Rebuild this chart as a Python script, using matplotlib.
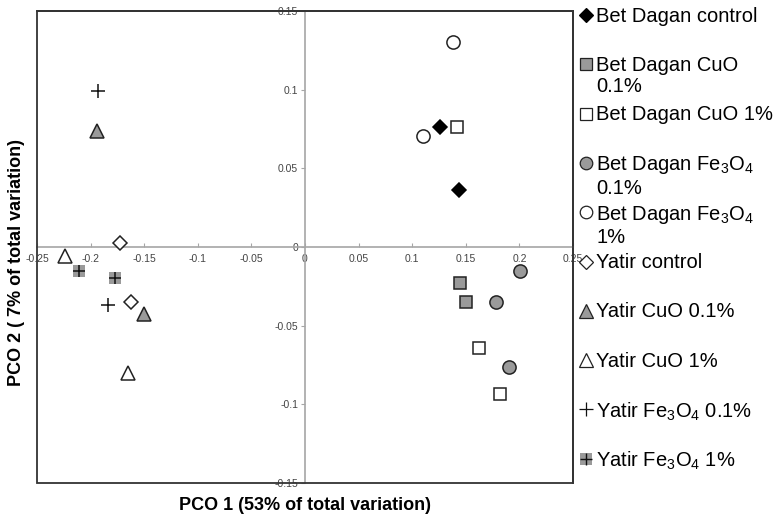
import matplotlib
matplotlib.use("Agg")
import matplotlib.pyplot as plt
from matplotlib.lines import Line2D
from matplotlib.patches import Rectangle

plt.rcParams['font.family'] = ['Liberation Sans', 'DejaVu Sans']
plt.rcParams['mathtext.fontset'] = 'custom'
plt.rcParams['mathtext.rm'] = 'Liberation Sans'
plt.rcParams['mathtext.it'] = 'Liberation Sans:italic'
plt.rcParams['mathtext.bf'] = 'Liberation Sans:bold'

# ---- data ----
labels = ["Bet Dagan control", "Bet Dagan CuO\n0.1%", "Bet Dagan CuO 1%",
          "Bet Dagan Fe$_3$O$_4$\n0.1%", "Bet Dagan Fe$_3$O$_4$\n1%",
          "Yatir control", "Yatir CuO 0.1%", "Yatir CuO 1%",
          "Yatir Fe$_3$O$_4$ 0.1%", "Yatir Fe$_3$O$_4$ 1%"]
bd_control_x = [0.126, 0.144]
bd_control_y = [0.076, 0.036]
bd_cuo01_x = [0.145, 0.150]
bd_cuo01_y = [-0.023, -0.035]
bd_cuo1_x = [0.142, 0.162, 0.182]
bd_cuo1_y = [0.0765, -0.064, -0.0935]
bd_fe01_x = [0.2005, 0.178, 0.190]
bd_fe01_y = [-0.015, -0.035, -0.076]
bd_fe1_x = [0.1385, 0.110]
bd_fe1_y = [0.130, 0.0706]
y_control_x = [-0.173, -0.1624]
y_control_y = [0.0023, -0.035]
y_cuo01_x = [-0.194, -0.1506]
y_cuo01_y = [0.0737, -0.0426]
y_cuo1_x = [-0.224, -0.165]
y_cuo1_y = [-0.0055, -0.080]
y_fe01_x = [-0.193, -0.184]
y_fe01_y = [0.0994, -0.0369]
y_fe1_x = [-0.211, -0.177]
y_fe1_y = [-0.0155, -0.020]

xticks = [-0.25, -0.2, -0.15, -0.1, -0.05, 0, 0.05, 0.1, 0.15, 0.2, 0.25]
xticklabels = ["-0.25", "-0.2", "-0.15", "-0.1", "-0.05", "0", "0.05", "0.1", "0.15", "0.2", "0.25"]
yticks = [-0.15, -0.1, -0.05, 0, 0.05, 0.1, 0.15]
yticklabels = ["-0.15", "-0.1", "-0.05", "0", "0.05", "0.1", "0.15"]

GRAY = "#9a9a9a"
ms = 9
mew = 1.1

styles = [
    dict(marker='D', mfc='black', mec='black', ms=ms * 0.8),
    dict(marker='s', mfc=GRAY, mec='#222222', ms=ms),
    dict(marker='s', mfc='white', mec='#222222', ms=ms),
    dict(marker='o', mfc=GRAY, mec='#222222', ms=ms + 0.5),
    dict(marker='o', mfc='white', mec='#222222', ms=ms + 0.5),
    dict(marker='D', mfc='white', mec='#222222', ms=ms * 0.8),
    dict(marker='^', mfc=GRAY, mec='#222222', ms=ms + 1),
    dict(marker='^', mfc='white', mec='#222222', ms=ms + 1),
    dict(marker='+', mfc='none', mec='#111111', ms=ms + 1),
    None,  # composite: gray square with plus
]
series = [(bd_control_x, bd_control_y), (bd_cuo01_x, bd_cuo01_y), (bd_cuo1_x, bd_cuo1_y),
          (bd_fe01_x, bd_fe01_y), (bd_fe1_x, bd_fe1_y), (y_control_x, y_control_y),
          (y_cuo01_x, y_cuo01_y), (y_cuo1_x, y_cuo1_y), (y_fe01_x, y_fe01_y), (y_fe1_x, y_fe1_y)]

fig = plt.figure(figsize=(7.83, 5.23), dpi=100)
ax = fig.add_axes([37 / 783, 1 - 483 / 523, 536 / 783, 472 / 523])
ax.set_xlim(-0.25, 0.25)
ax.set_ylim(-0.15, 0.15)

for (xs, ys), st in zip(series, styles):
    if st is None:
        ax.plot(xs, ys, linestyle='none', marker='s', mfc=GRAY, mec=GRAY, ms=ms, mew=0, zorder=3)
        ax.plot(xs, ys, linestyle='none', marker='+', mec='#111111', ms=ms, mew=mew, zorder=4)
    else:
        ax.plot(xs, ys, linestyle='none', marker=st['marker'], mfc=st['mfc'], mec=st['mec'],
                ms=st['ms'], mew=mew, zorder=3)

for s in ['left', 'bottom']:
    ax.spines[s].set_position(('data', 0))
    ax.spines[s].set_color('#a6a6a6')
    ax.spines[s].set_linewidth(1.2)
for s in ['top', 'right']:
    ax.spines[s].set_color('#333333')
    ax.spines[s].set_linewidth(1.3)
ax.add_patch(Rectangle((0, 0), 1, 1, transform=ax.transAxes, fill=False,
                       edgecolor='#333333', linewidth=1.3, clip_on=False, zorder=5))

ax.set_xticks(xticks)
ax.set_xticklabels(xticklabels)
ax.set_yticks(yticks)
ax.set_yticklabels(yticklabels)
ax.tick_params(axis='x', direction='in', length=3, width=0.8, color='#a6a6a6',
               labelsize=7.5, labelcolor='#444444', pad=5)
ax.tick_params(axis='y', direction='out', length=3, width=0.8, color='#a6a6a6',
               labelsize=7.5, labelcolor='#444444', pad=2)

ax.set_xlabel("PCO 1 (53% of total variation)", fontsize=13, fontweight='bold')
ax.xaxis.set_label_coords(0.5, -0.03)
ax.set_ylabel("PCO 2 ( 7% of total variation)", fontsize=13, fontweight='bold')
ax.yaxis.set_label_coords(-0.023, 0.468)

# legend (manual)
W, H = 783, 523
fs_leg = 14.5
for i, (lab, st) in enumerate(zip(labels, styles)):
    py = 15 + i * 49.3
    fy = 1 - py / H
    mx = 586 / W
    if st is None:
        fig.add_artist(Line2D([mx], [fy], transform=fig.transFigure, linestyle='none',
                              marker='s', mfc=GRAY, mec=GRAY, ms=8.5, mew=0))
        fig.add_artist(Line2D([mx], [fy], transform=fig.transFigure, linestyle='none',
                              marker='+', mec='#111111', ms=8.5, mew=1.0))
    else:
        fig.add_artist(Line2D([mx], [fy], transform=fig.transFigure, linestyle='none',
                              marker=st['marker'], mfc=st['mfc'], mec=st['mec'],
                              ms=st['ms'] * 0.95, mew=0.9))
    fig.text(596 / W, 1 - (py - 8.5) / H, lab, fontsize=fs_leg, va='top', ha='left',
             linespacing=1.15, color='black')

fig.savefig("out.png", dpi=100)
